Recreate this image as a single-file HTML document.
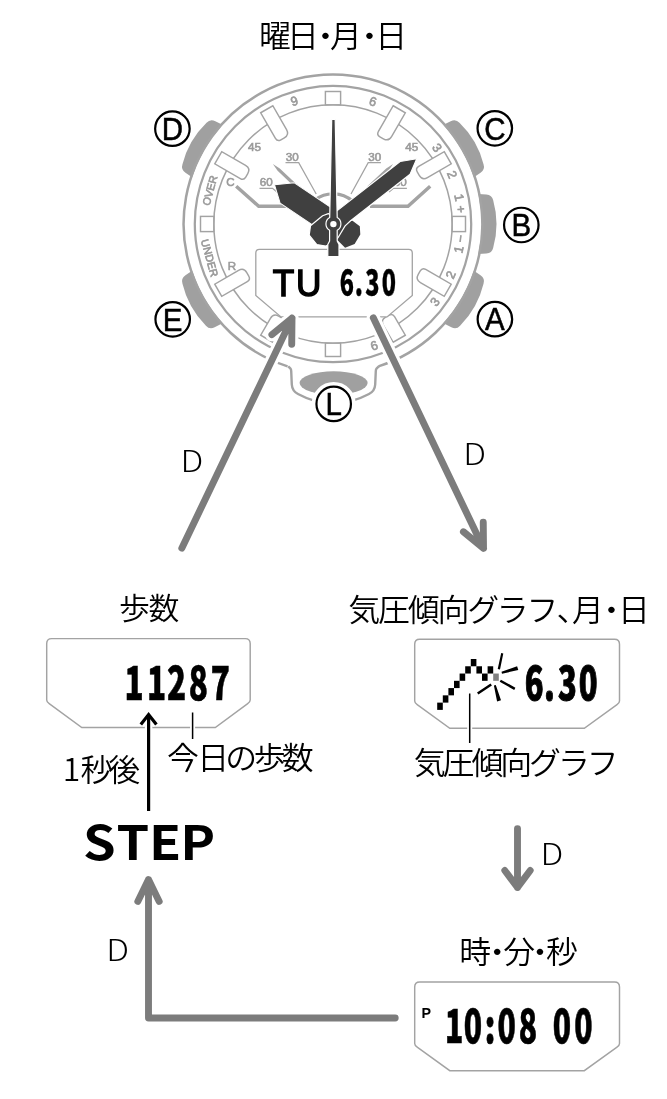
<!DOCTYPE html>
<html lang="ja">
<head>
<meta charset="utf-8">
<title>曜日・月・日</title>
<style>
html,body{margin:0;padding:0;background:#fff;}
body{width:667px;height:1099px;overflow:hidden;}
svg{display:block;will-change:transform;}
text{font-family:"Liberation Sans","Noto Sans CJK JP",sans-serif;}
text.jp{font-family:"Noto Sans CJK JP","Liberation Sans",sans-serif;font-weight:350;fill:#000;}
text.lcd{font-family:"Liberation Sans",sans-serif;fill:#000;}
</style>
</head>
<body>
<svg width="667" height="1099" viewBox="0 0 667 1099">
<rect width="667" height="1099" fill="#fff"/>
<g id="watch">
<circle cx="333" cy="224" r="149.4" fill="#fff" stroke="none"/>
<path d="M192.09,177.13 L185.48,172.67 Q180.76,169.49 182.47,164.25 A88,88 0 0 1 206.52,122.85 Q210.23,118.77 215.33,121.29 L222.47,124.83 A148.5,148.5 0 0 0 192.09,177.13 Z" fill="#a0a0a0"/>
<path d="M443.53,124.83 L450.67,121.29 Q455.77,118.77 459.48,122.85 A88,88 0 0 1 483.53,164.25 Q485.24,169.49 480.52,172.67 L473.91,177.13 A148.5,148.5 0 0 0 443.53,124.83 Z" fill="#a0a0a0"/>
<path d="M478.41,193.89 L486.36,194.43 Q492.04,194.81 493.19,200.2 A88,88 0 0 1 493.19,247.8 Q492.04,253.19 486.36,253.57 L478.41,254.11 A148.5,148.5 0 0 0 478.41,193.89 Z" fill="#a0a0a0"/>
<path d="M473.91,270.87 L480.52,275.33 Q485.24,278.51 483.53,283.75 A88,88 0 0 1 460.08,325.67 Q456.38,329.75 451.33,327.17 L443.53,323.17 A148.5,148.5 0 0 0 473.91,270.87 Z" fill="#a0a0a0"/>
<path d="M222.47,323.17 L214.67,327.17 Q209.62,329.75 205.92,325.67 A88,88 0 0 1 182.47,283.75 Q180.76,278.51 185.48,275.33 L192.09,270.87 A148.5,148.5 0 0 0 222.47,323.17 Z" fill="#a0a0a0"/>
<path d="M288.2,366.3 L290.3,368.3 Q291.2,369.2 291.2,371 L291.8,384.5 Q292.2,391 298,394 Q333,413 369,394 Q374.8,391 375.2,384.5 L375.8,371 Q375.8,369.2 376.7,368.3 L378.8,366.3" fill="#fff" stroke="#a3a3a3" stroke-width="2.4" stroke-linejoin="round"/>
<ellipse cx="333.6" cy="383" rx="34" ry="11.7" fill="#a0a0a0"/>
<path d="M378.42,366.33 A149.4,149.4 0 1 0 287.58,366.33" fill="none" stroke="#a3a3a3" stroke-width="2.5"/>
<circle cx="333" cy="224" r="138.2" fill="none" stroke="#a3a3a3" stroke-width="2.25"/>
<circle cx="333" cy="224" r="119.2" fill="none" stroke="#a3a3a3" stroke-width="1.5"/>
<rect x="-7.6" y="-132.5" width="15.2" height="13.3" fill="#fff" stroke="#a3a3a3" stroke-width="1.45" transform="translate(333,224) rotate(0)"/>
<path d="M-7,-132.5 L7,-132.5 L7,-105 Q7,-99 1,-99 L-3,-99 Q-7,-99 -7,-103 Z" fill="#fff" stroke="#a3a3a3" stroke-width="1.45" transform="translate(333,224) rotate(30)"/>
<path d="M-7,-132.5 L7,-132.5 L7,-105 Q7,-99 1,-99 L-3,-99 Q-7,-99 -7,-103 Z" fill="#fff" stroke="#a3a3a3" stroke-width="1.45" transform="translate(333,224) rotate(60)"/>
<rect x="-7.6" y="-132.5" width="15.2" height="13.3" fill="#fff" stroke="#a3a3a3" stroke-width="1.45" transform="translate(333,224) rotate(90)"/>
<path d="M-7,-132.5 L7,-132.5 L7,-105 Q7,-99 1,-99 L-3,-99 Q-7,-99 -7,-103 Z" fill="#fff" stroke="#a3a3a3" stroke-width="1.45" transform="translate(333,224) rotate(120)"/>
<path d="M-7,-132.5 L7,-132.5 L7,-113 Q7,-107 1,-107 L-3,-107 Q-7,-107 -7,-111 Z" fill="#fff" stroke="#a3a3a3" stroke-width="1.45" transform="translate(333,224) rotate(150)"/>
<rect x="-7.6" y="-132.5" width="15.2" height="13.3" fill="#fff" stroke="#a3a3a3" stroke-width="1.45" transform="translate(333,224) rotate(180)"/>
<path d="M-7,-132.5 L7,-132.5 L7,-113 Q7,-107 1,-107 L-3,-107 Q-7,-107 -7,-111 Z" fill="#fff" stroke="#a3a3a3" stroke-width="1.45" transform="translate(333,224) rotate(210)"/>
<path d="M-7,-132.5 L7,-132.5 L7,-105 Q7,-99 1,-99 L-3,-99 Q-7,-99 -7,-103 Z" fill="#fff" stroke="#a3a3a3" stroke-width="1.45" transform="translate(333,224) rotate(240)"/>
<rect x="-7.6" y="-132.5" width="15.2" height="13.3" fill="#fff" stroke="#a3a3a3" stroke-width="1.45" transform="translate(333,224) rotate(270)"/>
<path d="M-7,-132.5 L7,-132.5 L7,-105 Q7,-99 1,-99 L-3,-99 Q-7,-99 -7,-103 Z" fill="#fff" stroke="#a3a3a3" stroke-width="1.45" transform="translate(333,224) rotate(300)"/>
<path d="M-7,-132.5 L7,-132.5 L7,-105 Q7,-99 1,-99 L-3,-99 Q-7,-99 -7,-103 Z" fill="#fff" stroke="#a3a3a3" stroke-width="1.45" transform="translate(333,224) rotate(330)"/>
<text x="0" y="0" font-size="12.6" text-anchor="middle" dominant-baseline="central" fill="#9a9a9a" stroke="#9a9a9a" stroke-width="0.65" transform="translate(294.33,101.35) rotate(-17.5)">9</text>
<text x="0" y="0" font-size="12.6" text-anchor="middle" dominant-baseline="central" fill="#9a9a9a" stroke="#9a9a9a" stroke-width="0.65" transform="translate(372.74,101.69) rotate(18)">6</text>
<text x="0" y="0" font-size="12.6" text-anchor="middle" dominant-baseline="central" fill="#9a9a9a" stroke="#9a9a9a" stroke-width="0.65" transform="translate(436.78,148.05) rotate(53.8)">3</text>
<text x="0" y="0" font-size="12.6" text-anchor="middle" dominant-baseline="central" fill="#9a9a9a" stroke="#9a9a9a" stroke-width="0.65" transform="translate(451.81,174.79) rotate(67.5)">2</text>
<text x="0" y="0" font-size="12.6" text-anchor="middle" dominant-baseline="central" fill="#9a9a9a" stroke="#9a9a9a" stroke-width="0.65" transform="translate(458.84,197.48) rotate(78.1)">1</text>
<text x="0" y="0" font-size="12.6" text-anchor="middle" dominant-baseline="central" fill="#9a9a9a" stroke="#9a9a9a" stroke-width="0.65" transform="translate(460.75,209.22) rotate(83.4)">+</text>
<text x="0" y="0" font-size="12.6" text-anchor="middle" dominant-baseline="central" fill="#9a9a9a" stroke="#9a9a9a" stroke-width="0.65" transform="translate(460.77,238.56) rotate(-83.5)">−</text>
<text x="0" y="0" font-size="12.6" text-anchor="middle" dominant-baseline="central" fill="#9a9a9a" stroke="#9a9a9a" stroke-width="0.65" transform="translate(459.06,249.42) rotate(-78.6)">1</text>
<text x="0" y="0" font-size="12.6" text-anchor="middle" dominant-baseline="central" fill="#9a9a9a" stroke="#9a9a9a" stroke-width="0.65" transform="translate(451.02,275.07) rotate(-66.6)">2</text>
<text x="0" y="0" font-size="12.6" text-anchor="middle" dominant-baseline="central" fill="#9a9a9a" stroke="#9a9a9a" stroke-width="0.65" transform="translate(435.3,301.93) rotate(-52.7)">3</text>
<text x="0" y="0" font-size="12.6" text-anchor="middle" dominant-baseline="central" fill="#9a9a9a" stroke="#9a9a9a" stroke-width="0.65" transform="translate(374.23,345.81) rotate(-18.7)">6</text>
<text x="0" y="0" font-size="10.8" text-anchor="middle" dominant-baseline="central" fill="#9a9a9a" stroke="#9a9a9a" stroke-width="0.65" transform="translate(209.67,190.49) rotate(-74.8)">OVER</text>
<text x="0" y="0" font-size="10.8" text-anchor="middle" dominant-baseline="central" fill="#9a9a9a" stroke="#9a9a9a" stroke-width="0.65" transform="translate(209.79,257.94) rotate(74.6)">UNDER</text>
<text x="230.5" y="186.2" font-size="11.6" text-anchor="middle" fill="#9a9a9a" stroke="#9a9a9a" stroke-width="0.55">C</text>
<text x="232" y="269.8" font-size="11.6" text-anchor="middle" fill="#9a9a9a" stroke="#9a9a9a" stroke-width="0.55">R</text>
<text x="254.4" y="151.3" font-size="10.4" text-anchor="middle" fill="#9a9a9a" stroke="#9a9a9a" stroke-width="0.55" textLength="13" lengthAdjust="spacingAndGlyphs">45</text>
<text x="411.7" y="151.3" font-size="10.4" text-anchor="middle" fill="#9a9a9a" stroke="#9a9a9a" stroke-width="0.55" textLength="13" lengthAdjust="spacingAndGlyphs">45</text>
<text x="292.3" y="160.6" font-size="10.4" text-anchor="middle" fill="#9a9a9a" stroke="#9a9a9a" stroke-width="0.55" textLength="13" lengthAdjust="spacingAndGlyphs">30</text>
<text x="374.8" y="160.6" font-size="10.4" text-anchor="middle" fill="#9a9a9a" stroke="#9a9a9a" stroke-width="0.55" textLength="13" lengthAdjust="spacingAndGlyphs">30</text>
<text x="266.3" y="186.3" font-size="10.4" text-anchor="middle" fill="#9a9a9a" stroke="#9a9a9a" stroke-width="0.55" textLength="13" lengthAdjust="spacingAndGlyphs">60</text>
<text x="400.2" y="186.3" font-size="10.4" text-anchor="middle" fill="#9a9a9a" stroke="#9a9a9a" stroke-width="0.55" textLength="13" lengthAdjust="spacingAndGlyphs">60</text>
<path d="M285.5,162.6 H298.7 L316.2,194 M380.9,162.6 H368.2 L351,194 M259.5,188.3 H272.5 L277,192 M406.9,188.3 H393.5 L389,192" fill="none" stroke="#a3a3a3" stroke-width="1.25"/>
<path d="M236.2,186.2 L258.7,206.2 H290 M430.2,186.2 L408,206.2 H370" fill="none" stroke="#a3a3a3" stroke-width="3.5"/>
<path d="M272.9,164.1 L279.8,168.4 L298.7,186.3 L296.5,188.7 L277.6,170.8 Z M393.1,164.1 L386.2,168.4 L367.3,186.3 L369.5,188.7 L388.4,170.8 Z" fill="#a3a3a3"/>
<path d="M315.25,199.57 A30.2,30.2 0 0 1 352.41,200.87" fill="none" stroke="#a3a3a3" stroke-width="3.2"/>
<path d="M255.8,253 Q255.8,249.4 259.4,249.4 H408.7 Q412.3,249.4 412.3,253 V295.5 L387,316.9 H281 L255.8,295.5 Z" fill="#fff" stroke="#a3a3a3" stroke-width="1.3"/>
<path d="M-12.1,4 L-12.1,-55.6 L0,-70.6 L12.7,-55.2 L12.7,4 Z" transform="translate(333,224.2) rotate(304)" fill="#404040" stroke="#fff" stroke-width="1" stroke-linejoin="round"/>
<path d="M333,222 L345.1,222 L352.5,220.8 L359.8,226.2 L360.3,234.6 L354.6,244.1 L345.1,247.7 L337.8,240.4 L333,236 Z" fill="#404040"/>
<path d="M416.77,158.76 L400.12,161.48 L331.17,215.35 L328.3,213.6 L322.6,215.7 L310.5,225.7 L309.2,235.2 L316.8,244.6 L325.7,246 L333,243 L338.3,237.3 L345.1,225.9 L350.6,220.73 L410.09,174.25 Z" fill="#404040" stroke="#fff" stroke-width="1.2" stroke-linejoin="round"/>
<path d="M331.7,119.4 L335.2,119.4 L337.2,217.6 A7.3,7.3 0 0 1 337.2,230.3 L337.2,241 L339,244.5 L339,256.7 L327.8,256.7 L327.8,244.5 L329.6,241 L329.6,230.3 A7.3,7.3 0 0 1 329.7,217.6 Z" fill="#404040" stroke="#fff" stroke-width="1.2" stroke-linejoin="round"/>
<circle cx="333.4" cy="224.1" r="3.2" fill="#fff"/>
<circle cx="172.4" cy="128.7" r="17.25" fill="#fff" stroke="#fff" stroke-width="9.4"/>
<circle cx="172.4" cy="128.7" r="17.25" fill="#fff" stroke="#000" stroke-width="2.2"/>
<text transform="translate(172.4,139.9) scale(1,1.07)" x="0" y="0" font-size="29.5" text-anchor="middle" fill="#000" stroke="#000" stroke-width="0.5">D</text>
<circle cx="494.8" cy="128.3" r="17.25" fill="#fff" stroke="#fff" stroke-width="9.4"/>
<circle cx="494.8" cy="128.3" r="17.25" fill="#fff" stroke="#000" stroke-width="2.2"/>
<text transform="translate(494.8,139.5) scale(1,1.07)" x="0" y="0" font-size="29.5" text-anchor="middle" fill="#000" stroke="#000" stroke-width="0.5">C</text>
<circle cx="521.3" cy="225" r="17.25" fill="#fff" stroke="#fff" stroke-width="9.4"/>
<circle cx="521.3" cy="225" r="17.25" fill="#fff" stroke="#000" stroke-width="2.2"/>
<text transform="translate(521.3,236.2) scale(1,1.07)" x="0" y="0" font-size="29.5" text-anchor="middle" fill="#000" stroke="#000" stroke-width="0.5">B</text>
<circle cx="494.9" cy="319.2" r="17.25" fill="#fff" stroke="#fff" stroke-width="9.4"/>
<circle cx="494.9" cy="319.2" r="17.25" fill="#fff" stroke="#000" stroke-width="2.2"/>
<text transform="translate(494.9,330.4) scale(1,1.07)" x="0" y="0" font-size="29.5" text-anchor="middle" fill="#000" stroke="#000" stroke-width="0.5">A</text>
<circle cx="172.7" cy="319.3" r="17.25" fill="#fff" stroke="#fff" stroke-width="9.4"/>
<circle cx="172.7" cy="319.3" r="17.25" fill="#fff" stroke="#000" stroke-width="2.2"/>
<text transform="translate(172.7,330.5) scale(1,1.07)" x="0" y="0" font-size="29.5" text-anchor="middle" fill="#000" stroke="#000" stroke-width="0.5">E</text>
<circle cx="333.7" cy="403.9" r="17.25" fill="#fff" stroke="#fff" stroke-width="9.4"/>
<circle cx="333.7" cy="403.9" r="17.25" fill="#fff" stroke="#000" stroke-width="2.2"/>
<text transform="translate(333.7,415.1) scale(1,1.07)" x="0" y="0" font-size="29.5" text-anchor="middle" fill="#000" stroke="#000" stroke-width="0.5">L</text>
<path d="M181.8,548.2 L292,318.2 M271.91,334.7 L292,318.2 L291.73,344.2" fill="none" stroke="#fff" stroke-width="13.3" stroke-linecap="round" stroke-linejoin="round"/>
<path d="M181.8,548.2 L292,318.2 M271.91,334.7 L292,318.2 L291.73,344.2" fill="none" stroke="#7c7c7c" stroke-width="6.9" stroke-linecap="round" stroke-linejoin="round"/>
<path d="M373.3,317.8 L483.5,548.3 M483.25,522.3 L483.5,548.3 L463.42,531.78" fill="none" stroke="#fff" stroke-width="13.3" stroke-linecap="round" stroke-linejoin="round"/>
<path d="M373.3,317.8 L483.5,548.3 M483.25,522.3 L483.5,548.3 L463.42,531.78" fill="none" stroke="#7c7c7c" stroke-width="6.9" stroke-linecap="round" stroke-linejoin="round"/>
</g>
<g id="lower">
<path d="M46.7,643.6 Q46.7,638.6 51.7,638.6 H245.2 Q250.2,638.6 250.2,643.6 V700 Q250.2,702 247.7,703.6 L215.3,727.5 H81.8 L49.2,703.6 Q46.7,702 46.7,700 Z" fill="#fff" stroke="#a3a3a3" stroke-width="1.45"/>
<path d="M414.7,644.3 Q414.7,639.3 419.7,639.3 H614.5 Q619.5,639.3 619.5,644.3 V701 Q619.5,703 617,704.6 L584.3,728.3 H449.8 L417.2,704.6 Q414.7,703 414.7,701 Z" fill="#fff" stroke="#a3a3a3" stroke-width="1.45"/>
<path d="M414.7,987 Q414.7,982 419.7,982 H614.5 Q619.5,982 619.5,987 V1043.5 Q619.5,1045.5 617,1047.1 L584.3,1070.7 H449.8 L417.2,1047.1 Q414.7,1045.5 414.7,1043.5 Z" fill="#fff" stroke="#a3a3a3" stroke-width="1.45"/>
<text class="jp" transform="scale(1.03,1)" x="251.49 278.67 300.42 320.33 343.24 364.21" y="47.5" font-size="31">曜日・月・日</text>
<text class="jp" transform="scale(1.03,1)" x="115.49 144.13" y="619.3" font-size="30">歩数</text>
<text class="jp" transform="scale(1.03,1)" x="338.19 367.02 395.86 424.69 453.53 482.36 511.2 540.33 555.37 578.19 600.03" y="620.8" font-size="31">気圧傾向グラフ、月・日</text>
<text class="jp" transform="scale(1.03,1)" x="162.17 191.49 218.77 246.44 273.63" y="769" font-size="31">今日の歩数</text>
<text class="jp" transform="scale(1.03,1)" x="60.91 78.09 105.08" y="781.5" font-size="31">1秒後</text>
<text class="jp" transform="scale(1.03,1)" x="401.68 429.69 457.7 485.71 513.72 541.73 569.74" y="773.8" font-size="31">気圧傾向グラフ</text>
<text class="jp" transform="scale(1.03,1)" x="445.86 467.22 488.58 508.77 530.13" y="963.5" font-size="31">時・分・秒</text>
<text class="jp" transform="translate(192,471.8) scale(1.13,1)" x="0" y="0" font-size="30" style="font-weight:300" text-anchor="middle">D</text>
<text class="jp" transform="translate(474.6,465.4) scale(1.13,1)" x="0" y="0" font-size="30" style="font-weight:300" text-anchor="middle">D</text>
<text class="jp" transform="translate(551.8,864.6) scale(1.13,1)" x="0" y="0" font-size="30" style="font-weight:300" text-anchor="middle">D</text>
<text class="jp" transform="translate(117.6,961.2) scale(1.13,1)" x="0" y="0" font-size="30" style="font-weight:300" text-anchor="middle">D</text>
<text class="lcd" style='font-family:"Noto Sans CJK JP","Liberation Sans",sans-serif;font-weight:900' transform="scale(0.6872,1)" x="181.19 213.79 242.94 274.57 306.85" y="700.46" font-size="45.85" stroke="#000" stroke-width="0.6" stroke-linejoin="miter">11287</text>
<text class="lcd" style='font-family:"Noto Sans CJK JP","Liberation Sans",sans-serif;font-weight:900' transform="scale(0.6846,1)" x="766.58 794.66 815.18 845.37" y="700.27" font-size="45.21" stroke="#000" stroke-width="1" stroke-linejoin="miter">6.30</text>
<text class="lcd" style='font-family:"Noto Sans CJK JP","Liberation Sans",sans-serif;font-weight:900' transform="scale(0.6554,1)" x="678.92 707.58 739.58 758.92 791.45 819.45 843.37 876.25" y="1043.01" font-size="45.98" stroke="#000" stroke-width="0.7" stroke-linejoin="miter">10:08 00</text>
<text class="lcd" style='font-family:"Noto Sans CJK JP","Liberation Sans",sans-serif;font-weight:700' transform="scale(1.0954,1)" x="75.79 106.26 136.04 164.5" y="860.43" font-size="47.79">STEP</text>
<text class="lcd" style='font-family:"Liberation Sans",sans-serif;font-weight:400' transform="scale(0.9305,1)" x="293.12 318.09" y="295.58" font-size="37.84" stroke="#000" stroke-width="1.5" stroke-linejoin="miter">TU</text>
<text class="lcd" style='font-family:"Noto Sans CJK JP","Liberation Sans",sans-serif;font-weight:900' transform="scale(0.6567,1)" x="517.29 540.32 556.32 581.35" y="296" font-size="35.62" stroke="#000" stroke-width="0.4" stroke-linejoin="miter">6.30</text>
<text class="lcd" x="421.6" y="1018.3" font-size="14.3" font-weight="bold">P</text>
<rect x="437.2" y="702.62" width="5.6" height="7.27" fill="#000"/>
<rect x="442.8" y="695.35" width="5.6" height="7.27" fill="#000"/>
<rect x="448.4" y="688.08" width="5.6" height="7.27" fill="#000"/>
<rect x="454" y="680.81" width="5.6" height="7.27" fill="#000"/>
<rect x="459.6" y="673.54" width="5.6" height="7.27" fill="#000"/>
<rect x="465.2" y="666.27" width="5.6" height="7.27" fill="#000"/>
<rect x="470.8" y="659" width="5.6" height="7.27" fill="#000"/>
<rect x="476.4" y="666.27" width="5.6" height="7.27" fill="#000"/>
<rect x="482" y="673.54" width="5.6" height="7.27" fill="#000"/>
<rect x="487.6" y="666.27" width="5.6" height="7.27" fill="#000"/>
<rect x="493.2" y="673.54" width="5.6" height="7.27" fill="#808080"/>
<path d="M497.7,669.0 L501.2,653.1 L503.3,653.5 L500.0,669.5 Z M501.5,671.8 L517.1,666.3 L518.3,670.0 L502.0,673.7 Z M500.9,679.7 L515.4,687.7 L514.2,689.9 L499.7,681.8 Z M493.9,685.4 L495.8,684.9 L501.0,700.3 L497.1,701.5 Z M490.5,683.6 L491.9,685.5 L478.4,694.5 L477.0,692.5 Z" fill="#000"/>
<path d="M192.6,712.4 V739 M469.7,693.5 V743" stroke="#fff" stroke-width="5" fill="none"/>
<path d="M192.6,712.4 V739 M469.7,693.5 V743" stroke="#000" stroke-width="1.5" fill="none"/>
<path d="M148.6,811 V716 M140.8,724.6 L148.6,714.6 L156.4,724.6" stroke="#fff" stroke-width="7.5" fill="none" stroke-linejoin="miter"/>
<path d="M148.6,811 V716 M140.8,724.6 L148.6,714.6 L156.4,724.6" stroke="#000" stroke-width="3.2" fill="none" stroke-linejoin="miter"/>
<path d="M517.5,828.6 V887.4 M504.8,870.5 L517.5,887.4 L530.2,870.5" stroke="#7c7c7c" stroke-width="6.9" fill="none" stroke-linecap="round" stroke-linejoin="round"/>
<path d="M395.2,1018 H148.5 V879.6 M137.8,901.5 L148.5,879.6 L159.2,901.5" stroke="#7c7c7c" stroke-width="6.9" fill="none" stroke-linecap="round" stroke-linejoin="round"/>
</g>
</svg>
</body>
</html>
